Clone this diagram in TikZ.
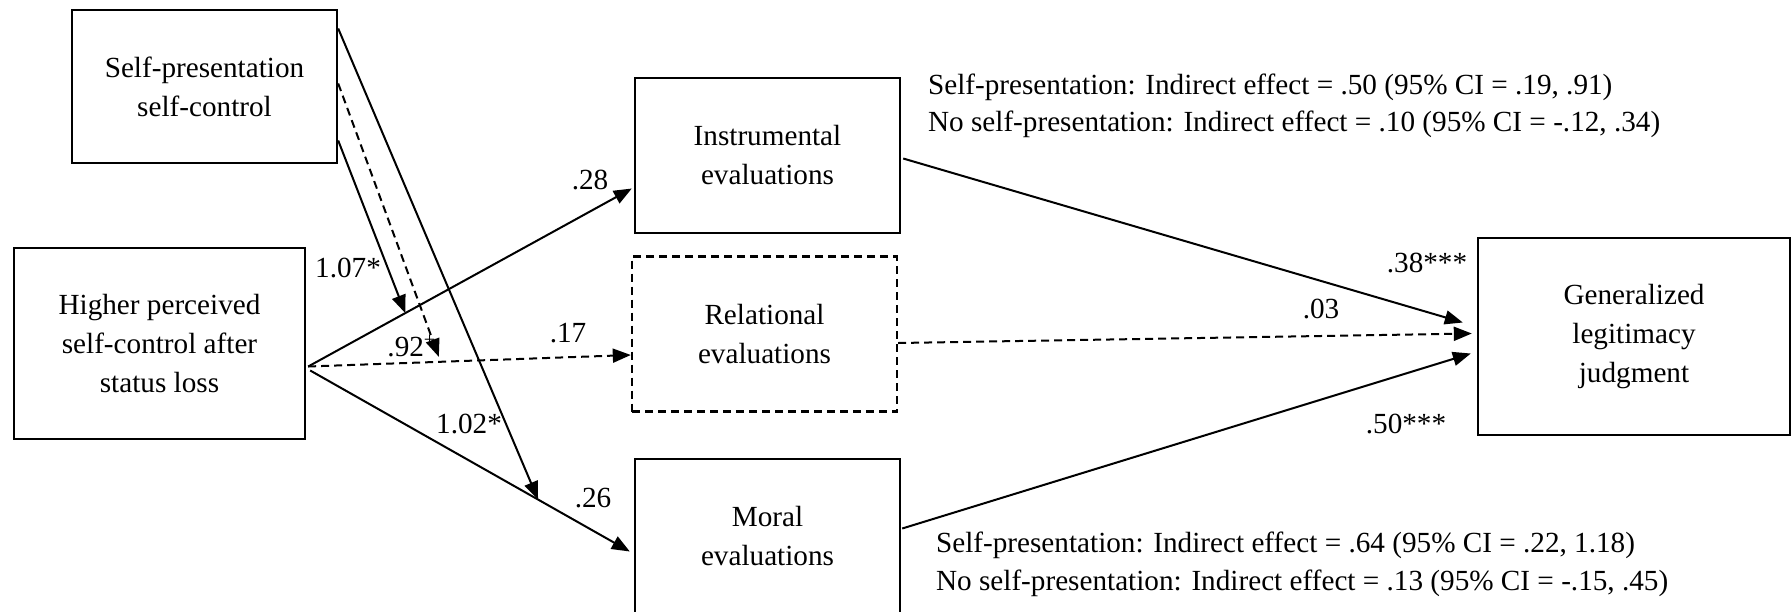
\documentclass[tikz,border=0pt]{standalone}
\usepackage{fontspec}
\setmainfont{Liberation Serif}
\usepackage{tikz}
\usetikzlibrary{arrows.meta,calc}

\begin{document}
\begin{tikzpicture}[x=0.5pt,y=-0.5pt,
    box/.style={draw,line width=1.2pt,align=center,inner sep=0pt,minimum width=132.5pt,minimum height=77.5pt},
    arr/.style={line width=1pt,-{Triangle[length=9pt,width=7pt]}},
    dsh/.style={dash pattern=on 4pt off 2.5pt}]
            \tikzstyle{every node}=[font=\fontsize{14.6}{19.5}\selectfont]
            \useasboundingbox (0,0) rectangle (1792,611);
            % boxes
            \node [box,minimum width=132.5pt,minimum height=76.5pt] (selfpres) at (204.5,86.5) {Self-presentation\\self-control};
            \node [box,minimum width=145.5pt,minimum height=95.5pt] (high) at (159.5,343.5) {Higher perceived\\self-control after\\status loss};
            \node [box] (instr) at (767.5,155.5) {Instrumental\\evaluations};
            \node [box,dsh] (rel) at (764.5,334) {Relational\\evaluations};
            \node [box] (moral) at (767.5,536.5) {Moral\\evaluations};
            \node [box,minimum width=156pt,minimum height=98.5pt] (gen) at (1634,336.5) {Generalized\\legitimacy\\judgment};
            % paths from the predictor
            \coordinate (hout) at ($(high.east)+(2,23)$);
            \draw [arr] (hout) -- coordinate[pos=0.3] (oninstr) ($(instr.west)+(-2,33)$);
            \draw [arr,dsh] (hout) -- coordinate[pos=0.405] (onrel) ($(rel.west)+(0,21)$);
            \draw [arr] ($(high.east)+(4,27)$) -- coordinate[pos=0.713] (onmoral) ($(moral.west)+(-4,15)$);
            % moderation
            \draw [arr] ($(selfpres.east)+(0,54)$) -- (oninstr);
            \draw [arr,dsh] ($(selfpres.east)+(0,-3)$) -- ($(onrel)+(0,-5)$);
            \draw [arr] ($(selfpres.east)+(0,-58)$) -- (onmoral);
            % paths to the outcome
            \draw [arr] ($(instr.east)+(2,3)$) -- ($(gen.west)+(-14,-14)$);
            \draw [arr,dsh] ($(rel.east)+(0,9)$) -- ($(gen.west)+(-5,-3)$);
            \draw [arr] ($(moral.east)+(1,-8)$) -- ($(gen.west)+(-6,17)$);
            % coefficients
            \node (c28) at (590,180) {.28};
            \node (c107) at (348,268) {1.07*};
            \node (c92) at (412,346) {.92\textsuperscript{+}};
            \node (c17) at (568,333) {.17};
            \node (c102) at (469,424) {1.02*};
            \node (c26) at (593,498) {.26};
            \node (c38) at (1427,263) {.38***};
            \node (c03) at (1321,309) {.03};
            \node (c50) at (1406,424) {.50***};
            % indirect effects
            \node [anchor=west,align=left,font=\fontsize{14.6}{18.5}\selectfont] (indinstr) at (921,106) {Self-presentation: Indirect effect = .50 (95\% CI = .19, .91)\\No self-presentation: Indirect effect = .10 (95\% CI = -.12, .34)};
            \node [anchor=west,align=left,font=\fontsize{14.6}{19}\selectfont] (indmoral) at (929,564) {Self-presentation: Indirect effect = .64 (95\% CI = .22, 1.18)\\No self-presentation: Indirect effect = .13 (95\% CI = -.15, .45)};
        \end{tikzpicture}
\end{document}
